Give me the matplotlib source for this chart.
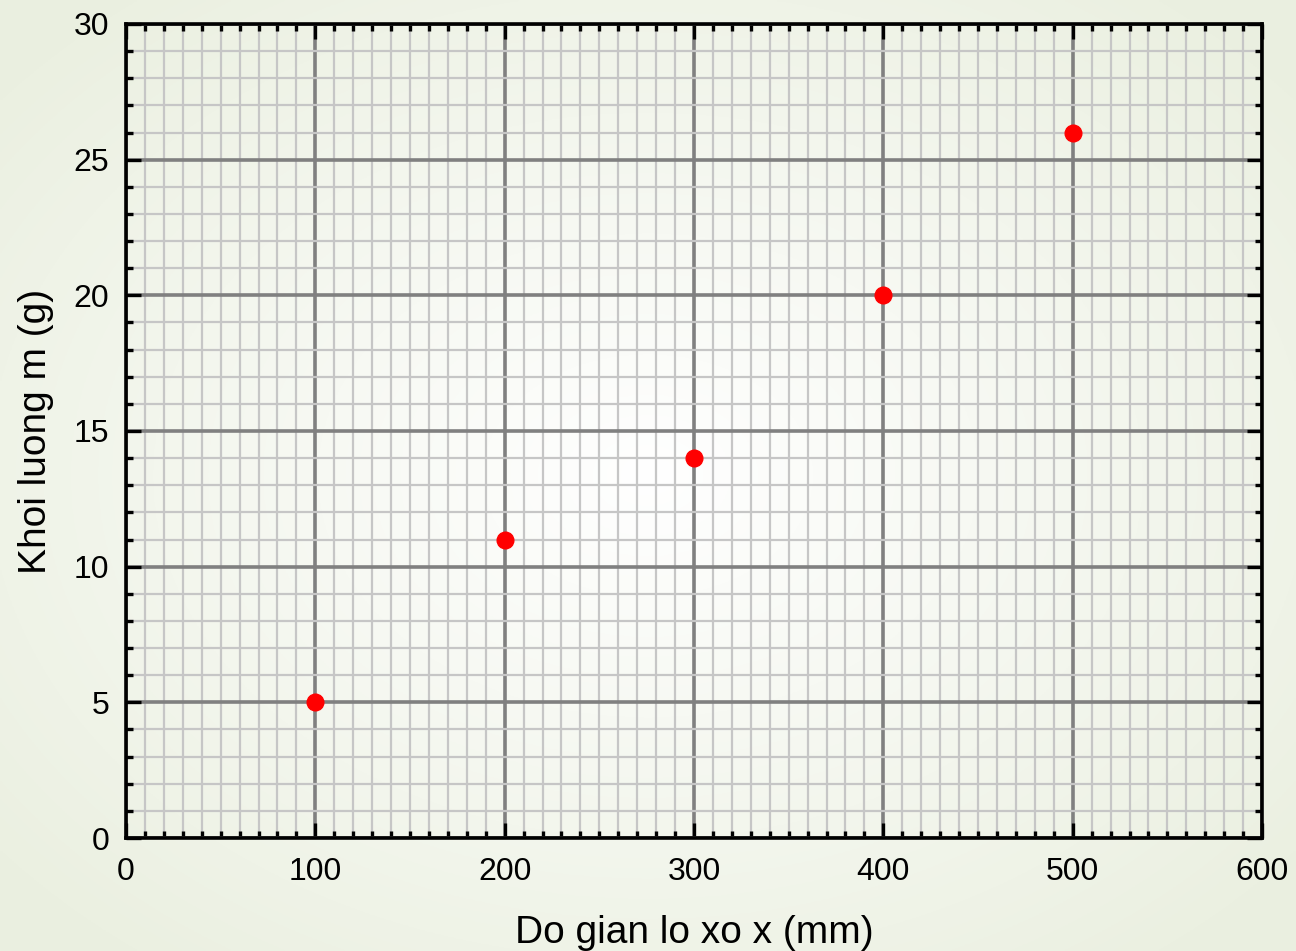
import numpy as np
import matplotlib
matplotlib.use("Agg")
import matplotlib.pyplot as plt
from matplotlib.ticker import MultipleLocator

plt.rcParams['font.family'] = ['Liberation Sans', 'DejaVu Sans']

x_mm = [100, 200, 300, 400, 500]
m_g = [5, 11, 14, 20, 26]

fig = plt.figure(figsize=(12.96, 9.51), dpi=100)

# radial background gradient
bg = fig.add_axes([0, 0, 1, 1], zorder=-10)
yy, xx = np.mgrid[-1:1:400j, -1:1:540j]
r = np.clip(np.sqrt(xx**2 + yy**2) / 1.3, 0, 1)
c_in = np.array([1.0, 1.0, 1.0])
c_out = np.array([0.92, 0.94, 0.88])
img = c_in[None, None, :] * (1 - r[..., None]) + c_out[None, None, :] * r[..., None]
bg.imshow(img, aspect='auto', extent=[0, 1, 0, 1])
bg.axis('off')

ax = fig.add_axes([0.0972, 0.1188, 0.8766, 0.856])
ax.patch.set_alpha(0)

ax.set_xlim(0, 600)
ax.set_ylim(0, 30)
ax.xaxis.set_major_locator(MultipleLocator(100))
ax.xaxis.set_minor_locator(MultipleLocator(10))
ax.yaxis.set_major_locator(MultipleLocator(5))
ax.yaxis.set_minor_locator(MultipleLocator(1))

ax.grid(which='minor', color='#c6c6c6', linewidth=1.6, zorder=0)
ax.grid(which='major', color='#808080', linewidth=2.6, zorder=1)
ax.set_axisbelow(True)

ax.tick_params(which='both', direction='in', top=True, right=True,
               labelsize=23, color='black')
ax.tick_params(axis='x', which='both', pad=14)
ax.tick_params(axis='y', which='both', pad=12)
ax.tick_params(which='major', length=11, width=2.4)
ax.tick_params(which='minor', length=5, width=2.4)
for s in ax.spines.values():
    s.set_linewidth(2.6)

ax.plot(x_mm, m_g, 'o', color='#ff0000', markersize=12, zorder=5, clip_on=False)

ax.set_xlabel('Do gian lo xo x (mm)', fontsize=28, labelpad=20)
ax.set_ylabel('Khoi luong m (g)', fontsize=28, labelpad=14)

fig.savefig('out.png', dpi=100)
